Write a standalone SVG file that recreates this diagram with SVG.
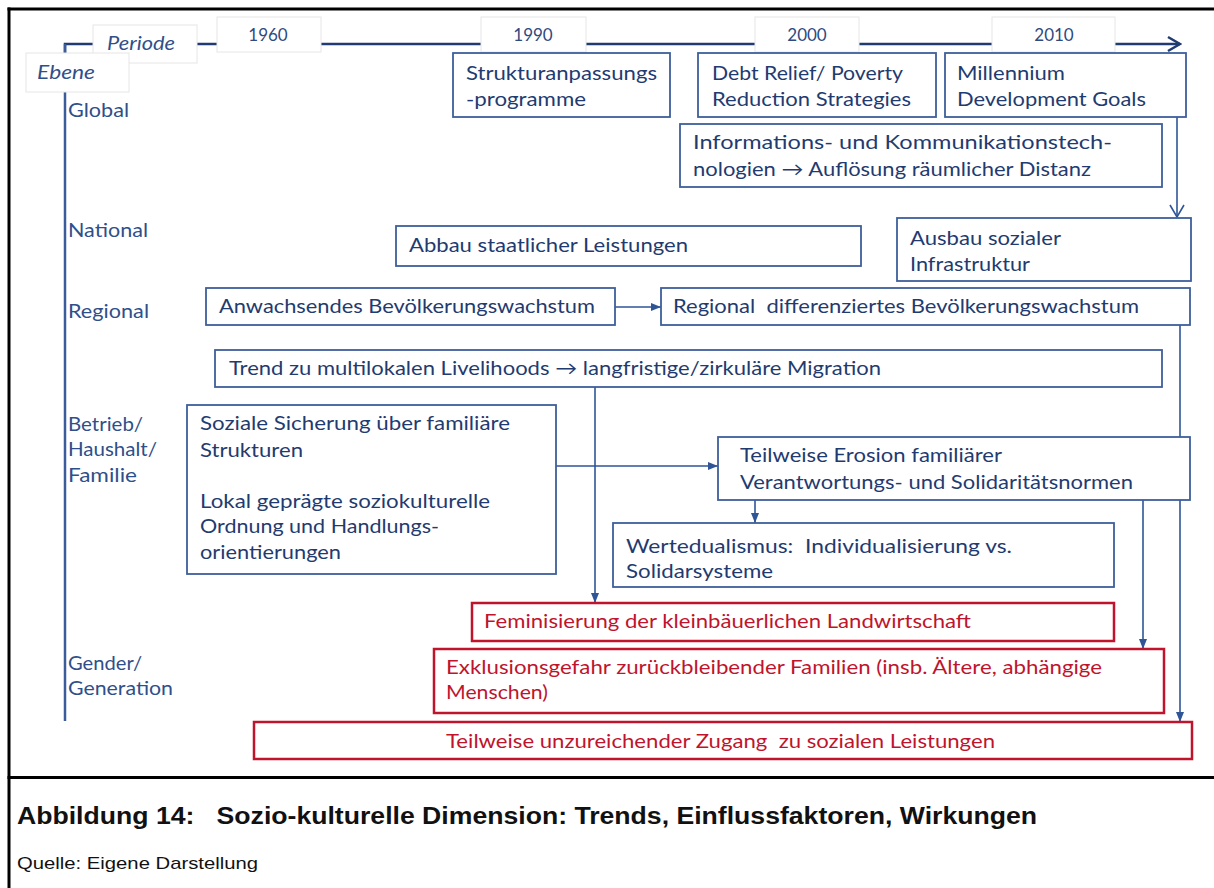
<svg xmlns="http://www.w3.org/2000/svg" width="1214" height="888" viewBox="0 0 1214 888">
  <style>
    .frame { stroke: #000; stroke-width: 3; fill: none; }
    .axis { stroke: #203a72; stroke-width: 2.5; fill: none; }
    .vaxis { stroke: #3a5c9a; stroke-width: 2.5; fill: none; }
    .tag { fill: #fff; stroke: #e6e6e6; stroke-width: 1; }
    .box { fill: #fff; stroke: #3d5f9b; stroke-width: 1.8; }
    .rbox { fill: #fff; stroke: #c0142c; stroke-width: 2.5; }
    .t { font-family: Lato, "Open Sans", sans-serif; font-size: 19px; fill: #1f3b70; }
    .lvl { font-family: Lato, "Open Sans", sans-serif; font-size: 19px; fill: #2f4f8a; }
    .yr { font-family: Lato, "Open Sans", sans-serif; font-size: 17px; fill: #2f4a80; text-anchor: middle; }
    .it { font-family: Lato, "Open Sans", sans-serif; font-size: 19px; font-style: italic; fill: #2f4f8a; }
    .rt { font-family: Lato, "Open Sans", sans-serif; font-size: 19px; fill: #c0142c; }
    .cap { font-family: "Liberation Sans", Arial, sans-serif; font-size: 23px; font-weight: bold; fill: #111; }
    .src { font-family: "Liberation Sans", Arial, sans-serif; font-size: 17px; fill: #111; }
    .conn { stroke: #2f5597; stroke-width: 1.6; fill: none; }
  </style>
  <defs>
    <marker id="tri" markerUnits="userSpaceOnUse" markerWidth="10" markerHeight="10" viewBox="0 0 10 10" refX="10" refY="5" orient="auto">
      <path d="M0,1 L10,5 L0,9 Z" fill="#2f5597"/>
    </marker>
    <marker id="chev" markerUnits="userSpaceOnUse" markerWidth="14" markerHeight="16" viewBox="0 0 14 16" refX="13" refY="8" orient="auto">
      <path d="M1,1 L13,8 L1,15" fill="none" stroke="#2f5597" stroke-width="1.6"/>
    </marker>
    <marker id="axchev" markerUnits="userSpaceOnUse" markerWidth="16" markerHeight="18" viewBox="0 0 16 18" refX="14" refY="9" orient="auto">
      <path d="M2,2 L14,9 L2,16" fill="none" stroke="#203a72" stroke-width="2.5"/>
    </marker>
  </defs>

  <rect width="1214" height="888" fill="#fff"/>

  <!-- outer frame and caption divider -->
  <g id="frame">
    <line class="frame" x1="7.5" y1="9" x2="1214" y2="9"/>
    <line class="frame" x1="9" y1="7.5" x2="9" y2="888"/>
    <line class="frame" x1="7.5" y1="777.5" x2="1214" y2="777.5"/>
  </g>

  <!-- time axis and level axis -->
  <g id="axes">
    <polyline class="axis" points="65,54 65,44 1180,44" marker-end="url(#axchev)"/>
    <line class="vaxis" x1="65" y1="44" x2="65" y2="721"/>
  </g>

  <!-- axis tags -->
  <g id="tag-periode">
    <rect class="tag" x="93" y="25" width="104" height="38"/>
    <text class="it" x="107" y="50" textLength="68" lengthAdjust="spacingAndGlyphs">Periode</text>
  </g>
  <g id="tag-ebene">
    <rect class="tag" x="26" y="53" width="103" height="39"/>
    <text class="it" x="37" y="79" textLength="58" lengthAdjust="spacingAndGlyphs">Ebene</text>
  </g>
  <g id="year-1960">
    <rect class="tag" x="217" y="17" width="104" height="35"/>
    <text class="yr" x="268" y="41">1960</text>
  </g>
  <g id="year-1990">
    <rect class="tag" x="481" y="17" width="105" height="35"/>
    <text class="yr" x="533" y="41">1990</text>
  </g>
  <g id="year-2000">
    <rect class="tag" x="755" y="17" width="104" height="35"/>
    <text class="yr" x="807" y="41">2000</text>
  </g>
  <g id="year-2010">
    <rect class="tag" x="992" y="17" width="123" height="35"/>
    <text class="yr" x="1054" y="41">2010</text>
  </g>

  <!-- level labels -->
  <g id="levels">
    <text class="lvl" x="68" y="117" textLength="61" lengthAdjust="spacingAndGlyphs">Global</text>
    <text class="lvl" x="68" y="237" textLength="80" lengthAdjust="spacingAndGlyphs">National</text>
    <text class="lvl" x="68" y="318" textLength="81" lengthAdjust="spacingAndGlyphs">Regional</text>
    <text class="lvl" x="68" y="431" textLength="75" lengthAdjust="spacingAndGlyphs">Betrieb/</text>
    <text class="lvl" x="68" y="456" textLength="89" lengthAdjust="spacingAndGlyphs">Haushalt/</text>
    <text class="lvl" x="68" y="482" textLength="69" lengthAdjust="spacingAndGlyphs">Familie</text>
    <text class="lvl" x="68" y="670" textLength="74" lengthAdjust="spacingAndGlyphs">Gender/</text>
    <text class="lvl" x="68" y="695" textLength="105" lengthAdjust="spacingAndGlyphs">Generation</text>
  </g>

  <!-- connectors -->
  <g id="connectors">
    <line class="conn" x1="1177" y1="117" x2="1177" y2="217" marker-end="url(#chev)"/>
    <line class="conn" x1="615" y1="307" x2="661" y2="307" marker-end="url(#tri)"/>
    <line class="conn" x1="595" y1="387" x2="595" y2="603" marker-end="url(#tri)"/>
    <line class="conn" x1="556" y1="466" x2="718" y2="466" marker-end="url(#tri)"/>
    <line class="conn" x1="755" y1="500" x2="755" y2="523" marker-end="url(#tri)"/>
    <line class="conn" x1="1143" y1="500" x2="1143" y2="649" marker-end="url(#tri)"/>
    <line class="conn" x1="1180" y1="325" x2="1180" y2="722" marker-end="url(#tri)"/>
  </g>

  <!-- global level -->
  <g id="strukturanpassung">
    <rect class="box" x="453" y="53" width="217" height="64"/>
    <text class="t" x="466" y="80" textLength="191" lengthAdjust="spacingAndGlyphs">Strukturanpassungs</text>
    <text class="t" x="466" y="106" textLength="120" lengthAdjust="spacingAndGlyphs">-programme</text>
  </g>
  <g id="debt-relief">
    <rect class="box" x="698" y="53" width="238" height="64"/>
    <text class="t" x="712" y="80" textLength="191" lengthAdjust="spacingAndGlyphs">Debt Relief/ Poverty</text>
    <text class="t" x="712" y="106" textLength="199" lengthAdjust="spacingAndGlyphs">Reduction Strategies</text>
  </g>
  <g id="mdg">
    <rect class="box" x="945" y="53" width="241" height="64"/>
    <text class="t" x="957" y="80" textLength="108" lengthAdjust="spacingAndGlyphs">Millennium</text>
    <text class="t" x="957" y="106" textLength="189" lengthAdjust="spacingAndGlyphs">Development Goals</text>
  </g>
  <g id="ikt">
    <rect class="box" x="680" y="124" width="482" height="63"/>
    <text class="t" x="693" y="149" textLength="419" lengthAdjust="spacingAndGlyphs">Informations- und Kommunikationstech-</text>
    <text class="t" x="693" y="176" textLength="398" lengthAdjust="spacingAndGlyphs">nologien → Auflösung räumlicher Distanz</text>
  </g>

  <!-- national level -->
  <g id="abbau">
    <rect class="box" x="396" y="226" width="465" height="40"/>
    <text class="t" x="409" y="252" textLength="279" lengthAdjust="spacingAndGlyphs">Abbau staatlicher Leistungen</text>
  </g>
  <g id="ausbau">
    <rect class="box" x="897" y="218" width="294" height="63"/>
    <text class="t" x="910" y="245" textLength="151" lengthAdjust="spacingAndGlyphs">Ausbau sozialer</text>
    <text class="t" x="910" y="271" textLength="120" lengthAdjust="spacingAndGlyphs">Infrastruktur</text>
  </g>

  <!-- regional level -->
  <g id="anwachsend">
    <rect class="box" x="206" y="288" width="409" height="37"/>
    <text class="t" x="219" y="313" textLength="376" lengthAdjust="spacingAndGlyphs">Anwachsendes Bevölkerungswachstum</text>
  </g>
  <g id="regional-diff">
    <rect class="box" x="661" y="288" width="529" height="37"/>
    <text class="t" x="673" y="313" textLength="466" lengthAdjust="spacingAndGlyphs" xml:space="preserve">Regional  differenziertes Bevölkerungswachstum</text>
  </g>
  <g id="trend">
    <rect class="box" x="215" y="350" width="947" height="37"/>
    <text class="t" x="229" y="375" textLength="652" lengthAdjust="spacingAndGlyphs">Trend zu multilokalen Livelihoods → langfristige/zirkuläre Migration</text>
  </g>

  <!-- household level -->
  <g id="soziale-sicherung">
    <rect class="box" x="187" y="405" width="369" height="169"/>
    <text class="t" x="200" y="430" textLength="310" lengthAdjust="spacingAndGlyphs">Soziale Sicherung über familiäre</text>
    <text class="t" x="200" y="457" textLength="103" lengthAdjust="spacingAndGlyphs">Strukturen</text>
    <text class="t" x="200" y="508" textLength="290" lengthAdjust="spacingAndGlyphs">Lokal geprägte soziokulturelle</text>
    <text class="t" x="200" y="533" textLength="239" lengthAdjust="spacingAndGlyphs">Ordnung und Handlungs-</text>
    <text class="t" x="200" y="559" textLength="141" lengthAdjust="spacingAndGlyphs">orientierungen</text>
  </g>
  <g id="erosion">
    <rect class="box" x="718" y="437" width="472" height="63"/>
    <text class="t" x="740" y="462" textLength="262" lengthAdjust="spacingAndGlyphs">Teilweise Erosion familiärer</text>
    <text class="t" x="740" y="489" textLength="393" lengthAdjust="spacingAndGlyphs">Verantwortungs- und Solidaritätsnormen</text>
  </g>
  <g id="wertedualismus">
    <rect class="box" x="613" y="523" width="501" height="64"/>
    <text class="t" x="626" y="553" textLength="386" lengthAdjust="spacingAndGlyphs" xml:space="preserve">Wertedualismus:  Individualisierung vs.</text>
    <text class="t" x="626" y="578" textLength="147" lengthAdjust="spacingAndGlyphs">Solidarsysteme</text>
  </g>

  <!-- gender / generation level -->
  <g id="feminisierung">
    <rect class="rbox" x="472" y="603" width="642" height="38"/>
    <text class="rt" x="484" y="628" textLength="487" lengthAdjust="spacingAndGlyphs">Feminisierung der kleinbäuerlichen Landwirtschaft</text>
  </g>
  <g id="exklusion">
    <rect class="rbox" x="434" y="649" width="730" height="64"/>
    <text class="rt" x="446" y="674" textLength="656" lengthAdjust="spacingAndGlyphs">Exklusionsgefahr zurückbleibender Familien (insb. Ältere, abhängige</text>
    <text class="rt" x="446" y="699" textLength="102" lengthAdjust="spacingAndGlyphs">Menschen)</text>
  </g>
  <g id="zugang">
    <rect class="rbox" x="254" y="722" width="938" height="37"/>
    <text class="rt" x="446" y="748" textLength="549" lengthAdjust="spacingAndGlyphs" xml:space="preserve">Teilweise unzureichender Zugang  zu sozialen Leistungen</text>
  </g>

  <!-- caption -->
  <g id="caption">
    <text class="cap" x="17" y="824" textLength="1020" lengthAdjust="spacingAndGlyphs" xml:space="preserve">Abbildung 14:   Sozio-kulturelle Dimension: Trends, Einflussfaktoren, Wirkungen</text>
    <text class="src" x="17" y="869" textLength="241" lengthAdjust="spacingAndGlyphs">Quelle: Eigene Darstellung</text>
  </g>
</svg>
